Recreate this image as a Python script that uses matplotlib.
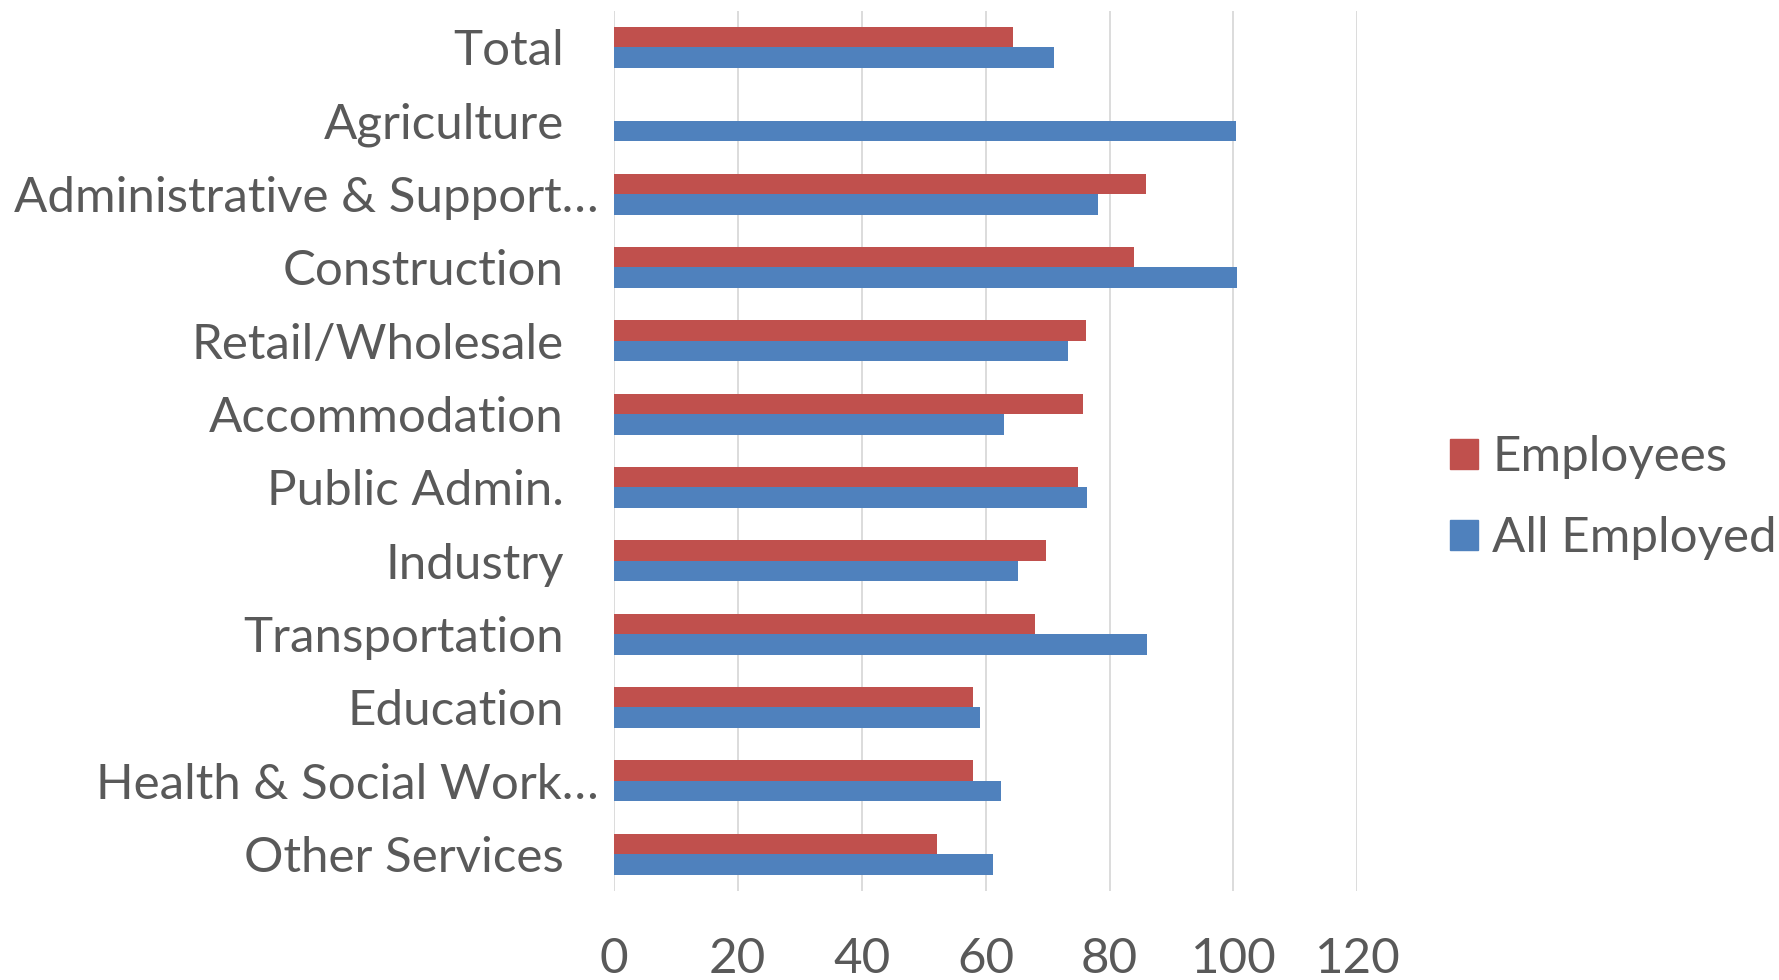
import matplotlib
matplotlib.use("Agg")
import matplotlib.pyplot as plt
import numpy as np
from matplotlib.transforms import ScaledTranslation
from matplotlib.patches import Patch

categories = [
    "Total",
    "Agriculture",
    "Administrative & Support…",
    "Construction",
    "Retail/Wholesale",
    "Accommodation",
    "Public Admin.",
    "Industry",
    "Transportation",
    "Education",
    "Health & Social Work…",
    "Other Services",
]
employees = [64.4, 0, 85.9, 83.9, 76.2, 75.8, 74.9, 69.7, 67.9, 58.0, 57.9, 52.2]
all_employed = [71.1, 100.4, 78.2, 100.6, 73.3, 63.0, 76.4, 65.3, 86.0, 59.1, 62.5, 61.2]
x_ticks = [0, 20, 40, 60, 80, 100, 120]

RED = "#C0504D"
BLUE = "#4F81BD"
TEXT = "#595959"
GRID = "#D9D9D9"
FS = 35.5

plt.rcParams["font.family"] = ["Lato", "DejaVu Sans"]

fig = plt.figure(figsize=(17.79, 9.80), dpi=100)
ax = fig.add_axes([0.345, 0.091, 0.418, 0.898])

y = np.arange(len(categories))
h = 0.28
ax.barh(y - h / 2, employees, height=h, color=RED, label="Employees")
ax.barh(y + h / 2, all_employed, height=h, color=BLUE, label="All Employed")

ax.set_xlim(0, 120)
ax.set_ylim(len(categories) - 0.5, -0.5)
ax.set_xticks(x_ticks)
ax.set_yticks(y)
ax.set_yticklabels(categories)

for s in ax.spines.values():
    s.set_visible(False)
ax.grid(axis="x", color=GRID, linewidth=1.3)
ax.set_axisbelow(True)
ax.tick_params(axis="both", length=0, labelsize=FS, labelcolor=TEXT)
ax.tick_params(axis="y", pad=36)
ax.tick_params(axis="x", pad=33)

# truncated category names hang a little further to the right
for lab in ax.get_yticklabels():
    if lab.get_text().endswith("…"):
        lab.set_transform(lab.get_transform() + ScaledTranslation(0.35, 0, fig.dpi_scale_trans))

handles = [Patch(color=RED, label="Employees"), Patch(color=BLUE, label="All Employed")]
leg = fig.legend(handles=handles, loc="center left", bbox_to_anchor=(0.815, 0.492),
                 frameon=False, fontsize=FS, labelcolor=TEXT,
                 handlelength=0.58, handleheight=0.58, handletextpad=0.28,
                 labelspacing=0.75, borderaxespad=0, borderpad=0)

fig.savefig("out.png", dpi=100)
